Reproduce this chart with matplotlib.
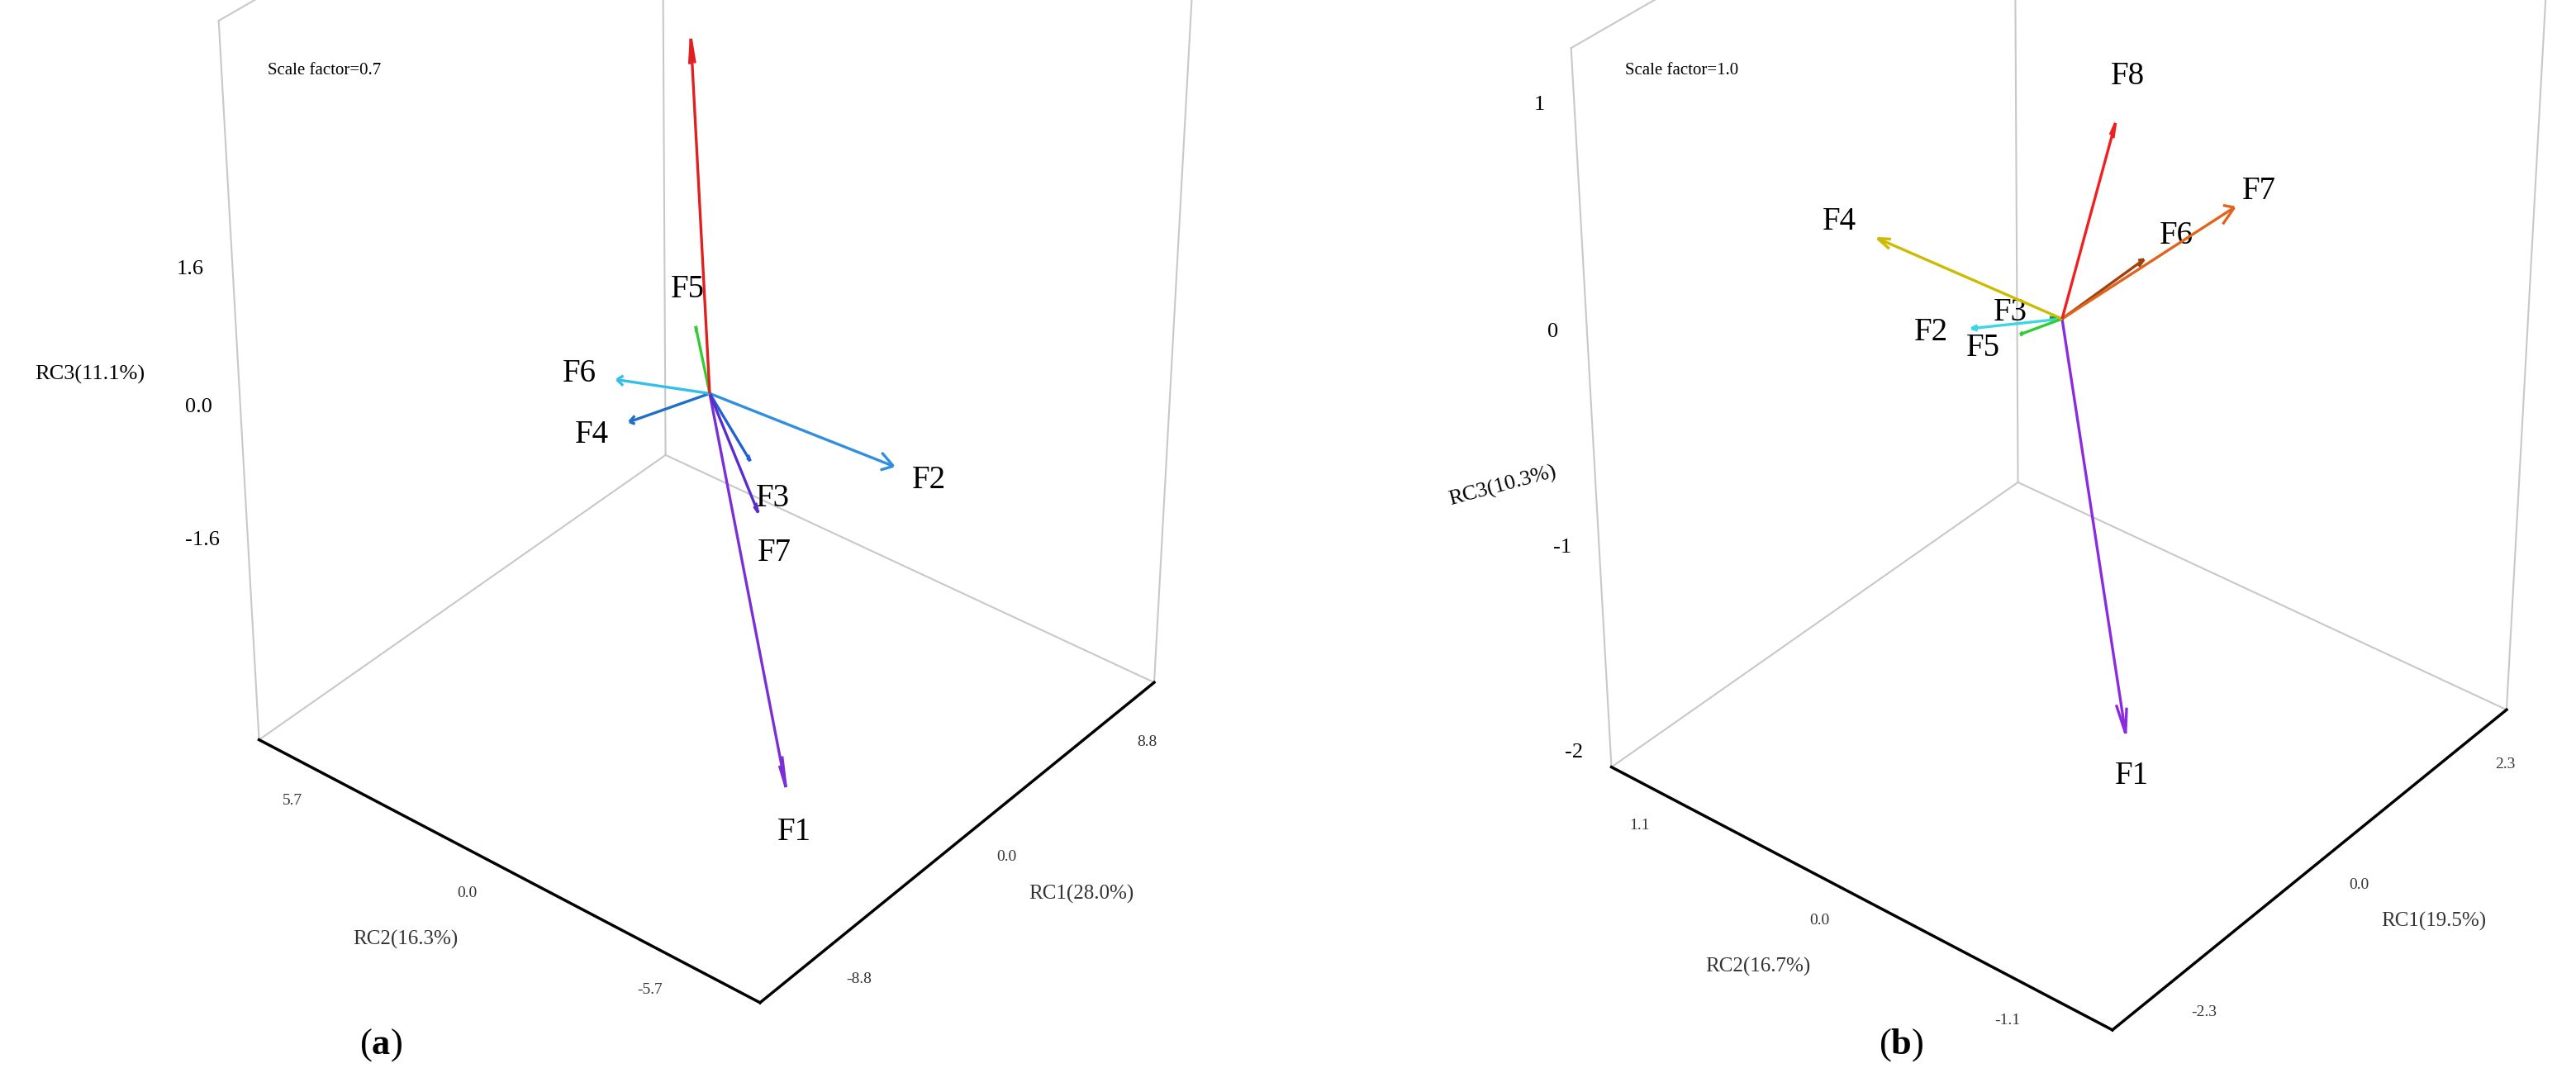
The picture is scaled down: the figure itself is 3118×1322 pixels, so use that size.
import matplotlib
matplotlib.use("Agg")
import matplotlib.pyplot as plt
import numpy as np

plt.rcParams['font.family'] = ['Liberation Serif', 'DejaVu Serif']
plt.rcParams['mathtext.fontset'] = 'custom'
plt.rcParams['mathtext.rm'] = 'Liberation Serif'
plt.rcParams['mathtext.bf'] = 'Liberation Serif:bold'

# Panel a data: (RC1, RC2, RC3) loadings scaled
labels_a = ["F1", "F2", "F3", "F4", "F5", "F6", "F7", "F8"]
rc1_a = [-2.2, 4.8, 0.5, -2.4, -0.8, -2.9, 0.6, -0.3]
rc2_a = [-3.6, -3.2, -1.0, 1.2, 0.0, 1.3, -1.2, 0.4]
rc3_a = [-3.8, -1.0, -0.7, -0.2, 0.9, 0.35, -1.3, 4.0]
colors_a = ["#7a2fd6", "#2f8ee0", "#2060d0", "#1f6fc8", "#33cc33", "#33c0e8", "#5a2ccf", "#e02020"]

# Panel b data
labels_b = ["F1", "F2", "F3", "F4", "F5", "F6", "F7", "F8"]
rc1_b = [-0.05, -0.55, -0.05, -1.0, -0.35, 0.8, 2.4, 0.5]
rc2_b = [-0.4, 0.3, 0.05, 0.65, 0.1, -0.15, -0.05, -0.1]
rc3_b = [-1.8, -0.03, 0.0, 0.35, -0.03, 0.15, 0.02, 0.8]
colors_b = ["#8a2be2", "#3dd6e6", "#1e9e2a", "#ccbb00", "#33cc33", "#a0400f", "#e0641a", "#f02020"]

fig = plt.figure(figsize=(31.18, 13.22), dpi=100)


def panel(rect, rc1, rc2, rc3, labels, colors, xl, yl, zl, xt, yt, zt, zdec,
          xlab, ylab, zlab, zlab_pos, zlab_rot):
    ax = fig.add_axes(rect, projection='3d')
    ax.set_axis_off()
    ax.set_xlim(xl); ax.set_ylim(yl); ax.set_zlim(zl)
    ax.view_init(elev=34, azim=-141)
    ax.set_box_aspect((1.0, 1.0, 1.3), zoom=1.18)
    x0, x1 = xl; y0, y1 = yl; z0, z1 = zl
    g = "#c8c8c8"
    for seg in [((x1, x1), (y1, y1), (z0, z1)), ((x0, x0), (y1, y1), (z0, z1)),
                ((x1, x1), (y0, y0), (z0, z1)), ((x0, x1), (y1, y1), (z1, z1)),
                ((x1, x1), (y0, y1), (z1, z1)), ((x0, x1), (y1, y1), (z0, z0)),
                ((x1, x1), (y0, y1), (z0, z0))]:
        ax.plot(*seg, color=g, lw=1.5, clip_on=False)
    ax.plot((x0, x0), (y1, y0), (z0, z0), color="black", lw=2.5, clip_on=False)
    ax.plot((x0, x1), (y0, y0), (z0, z0), color="black", lw=2.5, clip_on=False)
    for t in zt:
        ax.text(x0, y1 + 0.06 * (y1 - y0), t, f"{t:.{zdec}f}", fontsize=19, ha='right', va='center', clip_on=False)
    if zlab_pos is None:
        ax.text(x0, y1 + 0.2 * (y1 - y0), 0, zlab, fontsize=19, ha='right', va='center', clip_on=False)
    else:
        fig.text(zlab_pos[0], zlab_pos[1], zlab, fontsize=19, ha='right', va='center', rotation=zlab_rot)
    for t in yt:
        ax.text(x0 - 0.08 * (x1 - x0), t, z0, f"{t:.1f}", fontsize=14, ha='center', va='center', rotation=-60, color="#333", clip_on=False)
    for t in xt:
        ax.text(t, y0 - 0.08 * (y1 - y0), z0, f"{t:.1f}", fontsize=14, ha='center', va='center', rotation=60, color="#333", clip_on=False)
    ax.text(x0 - 0.22 * (x1 - x0), 0, z0, ylab, fontsize=18, ha='center', va='center', rotation=-30, color="#333", clip_on=False)
    ax.text(0, y0 - 0.22 * (y1 - y0), z0, xlab, fontsize=18, ha='center', va='center', rotation=55, color="#333", clip_on=False)
    for a, b, c, lab, col in zip(rc1, rc2, rc3, labels, colors):
        q = ax.quiver(0, 0, 0, a, b, c, color=col, lw=2.4, arrow_length_ratio=0.07)
        q.set_clip_on(False)
        n = np.sqrt((a / (x1 - x0)) ** 2 + (b / (y1 - y0)) ** 2 + (c / (z1 - z0)) ** 2)
        f = 1 + 0.06 / n
        ax.text(a * f, b * f, c * f, lab, fontsize=28, ha='center', va='center', clip_on=False)
    return ax


panel([0.025, 0.17, 0.49, 0.96], rc1_a, rc2_a, rc3_a, labels_a, colors_a,
      (-12, 12), (-8, 8), (-3.9, 4.5), [-8.8, 0.0, 8.8], [-5.7, 0.0, 5.7], [-1.6, 0.0, 1.6], 1,
      "RC1(28.0%)", "RC2(16.3%)", "RC3(11.1%)", None, 0)
panel([0.55, 0.145, 0.49, 0.96], rc1_b, rc2_b, rc3_b, labels_b, colors_b,
      (-3.0, 3.0), (-1.5, 1.5), (-2.0, 1.3), [-2.3, 0.0, 2.3], [-1.1, 0.0, 1.1], [-2, -1, 0, 1], 0,
      "RC1(19.5%)", "RC2(16.7%)", "RC3(10.3%)", (0.605, 0.555), 15)

fig.text(0.104, 0.932, "Scale factor=0.7", fontsize=15)
fig.text(0.631, 0.932, "Scale factor=1.0", fontsize=15)
fig.text(0.148, 0.035, r"($\mathbf{a}$)", fontsize=32, ha='center')
fig.text(0.738, 0.035, r"($\mathbf{b}$)", fontsize=32, ha='center')
fig.savefig("out.png", dpi=100)
